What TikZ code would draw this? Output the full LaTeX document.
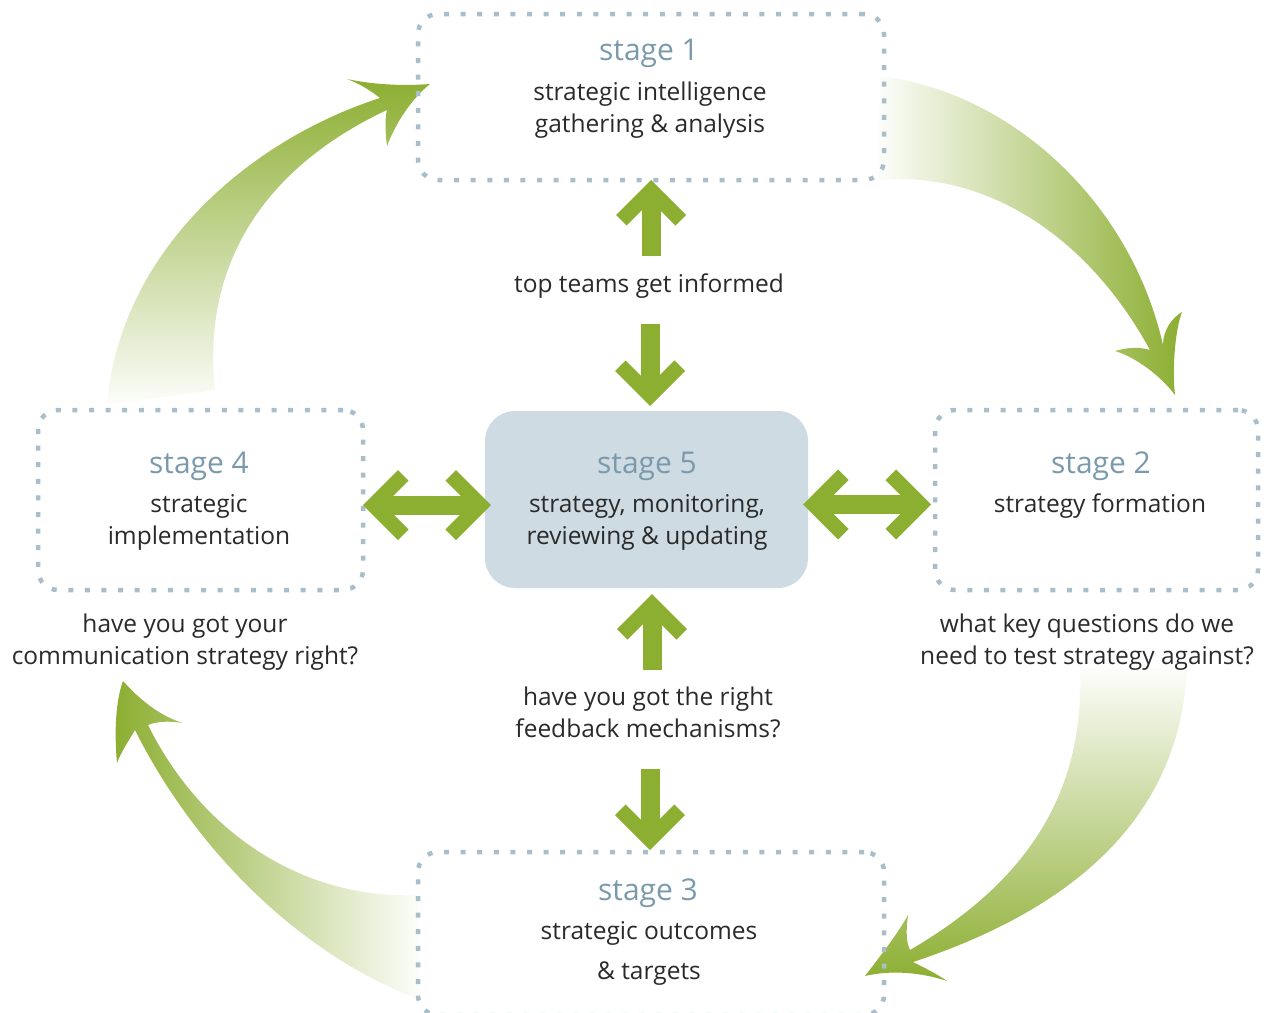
\documentclass[tikz,border=0pt]{standalone}
\usepackage{fontspec}
\setmainfont{Open Sans}
\usetikzlibrary{positioning}

\definecolor{leafgreen}{HTML}{8CAE31}
\definecolor{dotgrey}{HTML}{A8BECA}
\definecolor{panelblue}{HTML}{CEDBE3}
\definecolor{titleblue}{HTML}{7A9AAC}
\definecolor{inkgrey}{HTML}{2A2A2A}

% chevron head: tip at origin, pointing right
\pgfdeclarearrow{
  name = Chev,
  setup code = {
    \pgfarrowssettipend{0pt}
    \pgfarrowssetlineend{-20pt}
    \pgfarrowssetbackend{-45.6pt}
    \pgfarrowssetvisualbackend{-21.2pt}
    \pgfarrowshullpoint{0pt}{0pt}
    \pgfarrowshullpoint{-45.6pt}{35pt}
    \pgfarrowshullpoint{-45.6pt}{-35pt}
  },
  drawing code = {
    \pgfpathmoveto{\pgfqpoint{0pt}{0pt}}
    \pgfpathlineto{\pgfqpoint{-35pt}{35pt}}
    \pgfpathlineto{\pgfqpoint{-45.6pt}{24.4pt}}
    \pgfpathlineto{\pgfqpoint{-21.2pt}{0pt}}
    \pgfpathlineto{\pgfqpoint{-45.6pt}{-24.4pt}}
    \pgfpathlineto{\pgfqpoint{-35pt}{-35pt}}
    \pgfpathclose
    \pgfusepathqfill
  }
}

\tikzset{
  stagebox/.style={draw=dotgrey, line width=4.5pt, dash pattern=on 5pt off 11.6pt,
    rounded corners=20pt, inner sep=0pt, outer sep=0pt},
  centrebox/.style={fill=panelblue, rounded corners=30pt, inner sep=0pt, outer sep=0pt},
  stagetitle/.style={text=titleblue, font=\fontsize{30}{36}\selectfont, inner sep=0pt},
  stagetext/.style={text=inkgrey, font=\fontsize{24.5}{32}\selectfont, align=center, inner sep=0pt},
  flow/.style={draw, color=leafgreen, line width=19pt, -Chev},
  flowboth/.style={flow, Chev-Chev},
}

\begin{document}
\begin{tikzpicture}[x=1pt, y=-1pt]
  \useasboundingbox (0,0) rectangle (1266,1012);
  \clip (0,0) rectangle (1266,1012);

  % curved arrows between the stages
  % stage 1 -> stage 2
  \shade[left color=leafgreen!2, right color=leafgreen]
    (880,76) .. controls (1010,92) and (1130,200) .. (1163,345)
    .. controls (1163,330) and (1172,318) .. (1182,312)
    .. controls (1175,330) and (1172,370) .. (1175,395)
    .. controls (1160,375) and (1135,357) .. (1115,351)
    .. controls (1128,347) and (1140,347) .. (1150,350)
    .. controls (1090,240) and (990,170) .. (878,180) -- cycle;
  % stage 2 -> stage 3
  \shade[top color=leafgreen!2, bottom color=leafgreen]
    (1187,668) .. controls (1180,820) and (1070,910) .. (913,962)
    .. controls (925,968) and (937,974) .. (947,981)
    .. controls (920,972) and (890,970) .. (865,976)
    .. controls (885,950) and (898,933) .. (908,915)
    .. controls (906,930) and (906,942) .. (910,950)
    .. controls (1030,880) and (1085,790) .. (1080,668) -- cycle;
  % stage 3 -> stage 4
  \shade[left color=leafgreen, right color=leafgreen!2]
    (420,1000) .. controls (290,950) and (190,840) .. (135,730)
    .. controls (128,742) and (121,752) .. (117,763)
    .. controls (114,730) and (116,700) .. (123,681)
    .. controls (140,700) and (160,716) .. (183,723)
    .. controls (170,721) and (158,721) .. (148,725)
    .. controls (200,830) and (300,900) .. (418,895) -- cycle;
  % stage 4 -> stage 1
  \shade[top color=leafgreen, bottom color=leafgreen!2]
    (107,405) .. controls (120,250) and (250,140) .. (380,98)
    .. controls (370,90) and (358,83) .. (347,79)
    .. controls (375,85) and (405,86) .. (430,84)
    .. controls (410,100) and (395,125) .. (387,146)
    .. controls (385,130) and (385,118) .. (387,110)
    .. controls (280,160) and (200,250) .. (215,390) -- cycle;

  % stage boxes
  \node[stagebox, minimum width=466, minimum height=166] (s1) at (651,97) {};
  \node[stagebox, minimum width=323, minimum height=180] (s2) at (1096.5,500) {};
  \node[stagebox, minimum width=466, minimum height=163] (s3) at (651,933.5) {};
  \node[stagebox, minimum width=325, minimum height=180] (s4) at (200.5,500) {};
  \node[centrebox, minimum width=323, minimum height=177] (s5) at (646.5,499.5) {};

  % titles and texts
  \node[stagetitle] (t1) at (649,53) {stage 1};
  \node[stagetext] (b1) at (650,110) {strategic intelligence\\gathering \& analysis};
  \node[stagetitle] (t2) at (1101,466) {stage 2};
  \node[stagetext] (b2) at (1100,506) {strategy formation};
  \node[stagetitle] (t3) at (648,893) {stage 3};
  \node[stagetext, font=\fontsize{24.5}{40}\selectfont] (b3) at (649,953) {strategic outcomes\\\& targets};
  \node[stagetitle] (t4) at (199,466) {stage 4};
  \node[stagetext] (b4) at (199,522) {strategic\\implementation};
  \node[stagetitle] (t5) at (647,466) {stage 5};
  \node[stagetext] (b5) at (647,522) {strategy, monitoring,\\reviewing \& updating};

  % questions
  \node[stagetext] (q1) at (649,286) {top teams get informed};
  \node[stagetext] (q2) at (1087,642) {what key questions do we\\need to test strategy against?};
  \node[stagetext] (q3) at (648,712) {have you got the right\\feedback mechanisms?};
  \node[stagetext] (q4) at (185,642) {have you got your\\communication strategy right?};

  % straight arrows
  \coordinate (up1) at (651,256);
  \coordinate (dn1) at (650,324);
  \coordinate (up2) at (652,670);
  \coordinate (dn2) at (650,769);
  \draw[flow] (up1) -- (up1 |- s1.south);
  \draw[flow, shorten >=5pt] (dn1) -- (dn1 |- s5.north);
  \draw[flow, shorten >=6pt] (up2) -- (up2 |- s5.south);
  \draw[flow, shorten >=2pt] (dn2) -- (dn2 |- s3.north);
  \draw[flowboth, shorten >=-6pt] ([yshift=-5pt]s4.east) -- ([yshift=-5pt]s4.east -| s5.west);
  \draw[flowboth, shorten <=-5pt, shorten >=4pt] ([yshift=-5pt]s5.east) -- ([yshift=-5pt]s5.east -| s2.west);
\end{tikzpicture}
\end{document}
